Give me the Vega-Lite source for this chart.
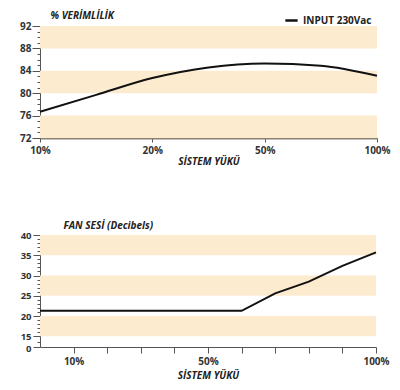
{
  "$schema": "https://vega.github.io/schema/vega-lite/v6.json",
  "padding": {"left": 19, "top": 10, "right": 5, "bottom": 2},
  "spacing": 54,
  "config": {
    "view": {"stroke": null},
    "font": "Open Sans",
    "axis": {"labelFont": "Open Sans", "labelFontWeight": "bold", "labelFontSize": 10, "labelColor": "#333", "titleFont": "Open Sans", "titleFontStyle": "italic", "titleFontWeight": "bold", "titleFontSize": 10, "titleColor": "#222", "grid": false, "domainColor": "#555", "tickColor": "#555", "labelOverlap": false, "tickCount": 100}
  },
  "vconcat": [
    {
      "width": 337,
      "height": 112,
      "layer": [
        {
          "data": {"values": [{"y0": 72, "y1": 76}, {"y0": 80, "y1": 84}, {"y0": 88, "y1": 92}]},
          "mark": {"type": "rect", "color": "#FDEBD0"},
          "encoding": {
            "x": {"datum": 0, "type": "quantitative"},
            "x2": {"datum": 3},
            "y": {"field": "y0", "type": "quantitative"},
            "y2": {"field": "y1"}
          }
        },
        {
          "data": {"values": [
            {"load": 0, "eff": 76.7, "series": "INPUT 230Vac"},
            {"load": 0.5, "eff": 79.7, "series": "INPUT 230Vac"},
            {"load": 1, "eff": 82.7, "series": "INPUT 230Vac"},
            {"load": 1.5, "eff": 84.6, "series": "INPUT 230Vac"},
            {"load": 2, "eff": 85.3, "series": "INPUT 230Vac"},
            {"load": 2.5, "eff": 84.9, "series": "INPUT 230Vac"},
            {"load": 3, "eff": 83.1, "series": "INPUT 230Vac"}
          ]},
          "mark": {"type": "line", "interpolate": "monotone", "strokeWidth": 2},
          "encoding": {
            "x": {"field": "load", "type": "quantitative", "scale": {"domain": [0, 3], "nice": false, "zero": false},
              "axis": {"values": [0, 1, 2, 3], "tickCount": 100, "labelExpr": "['10%','20%','50%','100%'][datum.value]", "title": "SİSTEM YÜKÜ", "tickSize": 4, "labelPadding": 3, "titlePadding": 1, "domainColor": "#8a8272", "domainWidth": 2, "labelFlush": false}},
            "y": {"field": "eff", "type": "quantitative", "scale": {"domain": [72, 92], "nice": false, "zero": false},
              "axis": {"values": [72,73,74,75,76,77,78,79,80,81,82,83,84,85,86,87,88,89,90,91,92], "tickCount": 100, "format": "d", "labelExpr": "datum.value % 4 === 0 ? datum.label : ''", "tickSize": {"condition": {"test": "datum.value % 4 === 0", "value": 8}, "value": 3}, "labelPadding": 1, "title": "% VERİMLİLİK", "titleAngle": 0, "titleAlign": "left", "titleBaseline": "bottom", "titleX": 10, "titleY": -6}},
            "color": {"field": "series", "type": "nominal", "scale": {"range": ["#111111"]},
              "legend": {"title": null, "orient": "none", "legendX": 244, "legendY": -13, "symbolType": "stroke", "symbolStrokeWidth": 2.5, "symbolSize": 150, "labelFont": "Open Sans", "labelFontWeight": "bold", "labelFontSize": 10, "labelColor": "#222"}}
          }
        }
      ]
    },
    {
      "width": 336,
      "height": 112,
      "layer": [
        {
          "data": {"values": [{"y0": 15, "y1": 20}, {"y0": 25, "y1": 30}, {"y0": 35, "y1": 40}]},
          "mark": {"type": "rect", "color": "#FDEBD0"},
          "encoding": {
            "x": {"datum": 0, "type": "quantitative"},
            "x2": {"datum": 100},
            "y": {"field": "y0", "type": "quantitative"},
            "y2": {"field": "y1"}
          }
        },
        {
          "data": {"values": [
            {"load": 0, "db": 21.3},
            {"load": 60, "db": 21.3},
            {"load": 70, "db": 25.6},
            {"load": 80, "db": 28.5},
            {"load": 90, "db": 32.4},
            {"load": 100, "db": 35.7}
          ]},
          "mark": {"type": "line", "strokeWidth": 2, "color": "#111111"},
          "encoding": {
            "x": {"field": "load", "type": "quantitative", "scale": {"domain": [0, 100], "nice": false},
              "axis": {"values": [10,20,30,40,50,60,70,80,90,100], "tickCount": 100, "labelExpr": "datum.value === 10 || datum.value === 50 || datum.value === 100 ? datum.value + '%' : ''", "title": "SİSTEM YÜKÜ", "tickSize": 6, "labelPadding": 3, "titlePadding": 4, "labelFlush": false}},
            "y": {"field": "db", "type": "quantitative", "scale": {"type": "linear", "domain": [0, 15, 40], "range": [112, 101.3, 0]},
              "axis": {"values": [0,7,15,16,17,18,19,20,21,22,23,24,25,26,27,28,29,30,31,32,33,34,35,36,37,38,39,40], "tickCount": 100, "format": "d", "labelExpr": "datum.value % 5 === 0 ? datum.label : ''", "labelFontSize": 9.5, "labelOffset": {"condition": {"test": "datum.value === 0", "value": 1.5}, "value": 0}, "tickSize": {"condition": {"test": "datum.value % 5 === 0", "value": 7}, "value": 3}, "labelPadding": 2, "title": "FAN SESİ (Decibels)", "titleAngle": 0, "titleAlign": "left", "titleBaseline": "bottom", "titleX": 23, "titleY": -5}}
          }
        }
      ]
    }
  ]
}
